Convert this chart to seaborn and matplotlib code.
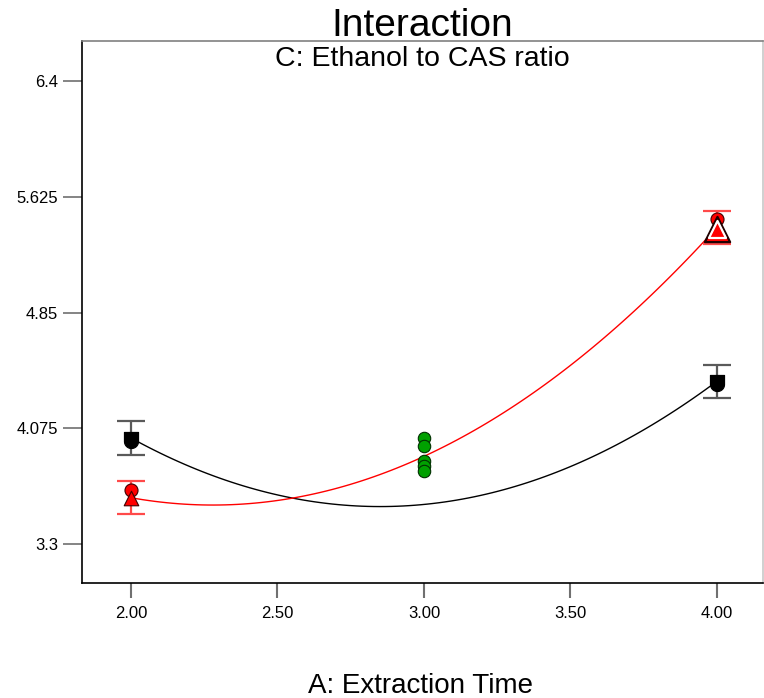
import numpy as np
import pandas as pd
import matplotlib
matplotlib.use("Agg")
import matplotlib.pyplot as plt
from matplotlib.path import Path
import seaborn as sns

# Factor levels of A (Extraction Time)
levels = [2.0, 3.0, 4.0]

# Predicted response at each A level for the two settings of C
pred_high = [4.010, 3.565, 4.390]   # black curve
pred_low = [3.610, 3.887, 5.420]    # red curve

# Confidence half-widths at the ends of each curve
ci_x = [2.0, 4.0]
ci_high = [0.112, 0.110]
ci_low = [0.110, 0.111]

# Observed design points
obs_high_x = [2.0, 4.0]
obs_high_y = [3.996, 4.375]
obs_low_circ_x = [2.0, 4.0]
obs_low_circ_y = [3.662, 5.476]
obs_low_tri_x = [2.0]
obs_low_tri_y = [3.605]
obs_low_multi_x = [4.0]
obs_low_multi_y = [5.409]
center_x = [3.0, 3.0, 3.0, 3.0, 3.0]
center_y = [4.008, 3.954, 3.854, 3.820, 3.787]

xticks = [2.0, 2.5, 3.0, 3.5, 4.0]
xtick_labels = ["2.00", "2.50", "3.00", "3.50", "4.00"]
yticks = [3.3, 4.075, 4.85, 5.625, 6.4]
ytick_labels = ["3.3", "4.075", "4.85", "5.625", "6.4"]

sns.set_style("white")
plt.rcParams["font.family"] = ["Liberation Sans", "DejaVu Sans"]
plt.rcParams["text.color"] = "black"

fig = plt.figure(figsize=(7.64, 6.98), dpi=100)
W, H = 764, 698
ax = fig.add_axes([82 / W, 1 - 583 / H, (763 - 82) / W, (583 - 41) / H])

curves = pd.DataFrame({"A": levels * 2,
                       "R": pred_high + pred_low,
                       "C": ["high"] * 3 + ["low"] * 3})

sns.regplot(data=curves[curves.C == "high"], x="A", y="R", order=2, ci=None,
            scatter=False, truncate=True, ax=ax,
            line_kws=dict(color="black", lw=1.0, zorder=2))
sns.regplot(data=curves[curves.C == "low"], x="A", y="R", order=2, ci=None,
            scatter=False, truncate=True, ax=ax,
            line_kws=dict(color="#ff0000", lw=1.0, zorder=2))

# Confidence bars at the end points
y_high_ends = [pred_high[0], pred_high[2]]
y_low_ends = [pred_low[0], pred_low[2]]
ax.errorbar(ci_x, y_high_ends, yerr=ci_high, fmt="none", ecolor="#5a5a5a",
            elinewidth=1.6, capsize=10.4, capthick=1.6, zorder=3)
ax.errorbar(ci_x, y_low_ends, yerr=ci_low, fmt="none", ecolor="#ff4a4a",
            elinewidth=1.6, capsize=10.4, capthick=1.6, zorder=3)

# Flat-topped, round-bottomed marker
theta = np.linspace(0, np.pi, 30)
arc = np.column_stack([0.875 * np.cos(theta), -0.125 - 0.875 * np.sin(theta)])
verts = np.vstack([[[-0.875, 1.0], [0.875, 1.0]], arc, [[-0.875, 1.0]]])
codes = [Path.MOVETO] + [Path.LINETO] * (len(verts) - 2) + [Path.CLOSEPOLY]
half_round = Path(verts, codes)

sns.scatterplot(x=obs_high_x, y=obs_high_y, marker=half_round, s=135,
                color="black", edgecolor="black", linewidth=0.8, ax=ax, zorder=5)
sns.scatterplot(x=obs_low_circ_x, y=obs_low_circ_y, marker="o", s=88,
                color="#ff0000", edgecolor="#400000", linewidth=0.8, ax=ax, zorder=5)
sns.scatterplot(x=obs_low_tri_x, y=obs_low_tri_y, marker="^", s=110,
                color="#ff0000", edgecolor="#400000", linewidth=0.8, ax=ax, zorder=6)
sns.scatterplot(x=obs_low_multi_x, y=obs_low_multi_y, marker="^", s=330,
                color="#ff0000", edgecolor="#200000", linewidth=1.6, ax=ax, zorder=6)
sns.scatterplot(x=obs_low_multi_x, y=obs_low_multi_y, marker="^", s=150,
                color="#ff0000", edgecolor="white", linewidth=1.6, ax=ax, zorder=7)
sns.scatterplot(x=center_x, y=center_y, marker="o", s=80,
                color="#00a000", edgecolor="#003000", linewidth=0.8, ax=ax, zorder=5)

ax.set_xlim(1.8328, 4.157)
ax.set_ylim(3.039, 6.668)
ax.set_xticks(xticks)
ax.set_xticklabels(xtick_labels)
ax.set_yticks(yticks)
ax.set_yticklabels(ytick_labels)
ax.set_xlabel("")
ax.set_ylabel("")

ax.tick_params(axis="x", direction="out", length=10.8, width=1.5, color="#707070",
               pad=5.5, labelsize=12, labelcolor="black", bottom=True)
ax.tick_params(axis="y", direction="out", length=13.7, width=1.2, color="#707070",
               pad=3.6, labelsize=12, labelcolor="black", left=True)

for side, col in [("left", "black"), ("bottom", "black"),
                  ("top", "#808080"), ("right", "#c8c8c8")]:
    ax.spines[side].set_visible(True)
    ax.spines[side].set_color(col)
    ax.spines[side].set_linewidth(1.2)

fig.text(422 / W, 1 - 36 / H, "Interaction", ha="center", va="baseline",
         fontsize=28, color="black")
fig.text(422 / W, 1 - 66 / H, "C: Ethanol to CAS ratio", ha="center", va="baseline",
         fontsize=20.5, color="black")
fig.text(420 / W, 1 - 693 / H, "A: Extraction Time", ha="center", va="baseline",
         fontsize=20, color="black")

fig.savefig("out.png", dpi=100)
